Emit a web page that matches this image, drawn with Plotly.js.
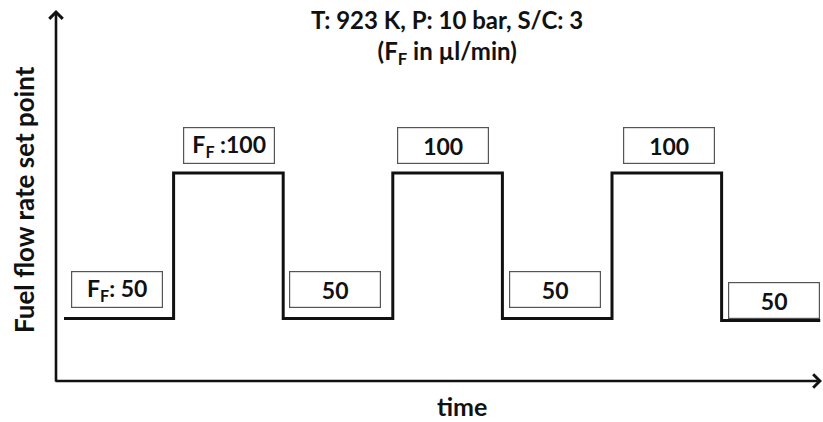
<!DOCTYPE html>
<html>
<head>
<meta charset="utf-8">
<script src="https://cdn.plot.ly/plotly-3.0.1.min.js"></script>
<style>html,body{margin:0;padding:0;background:#fff;}#chart{width:823px;height:422px;}</style>
</head>
<body>
<div id="chart"></div>
<script>
// ---- data ----
const stepTimes = [0, 1, 2, 3, 4, 5, 6, 6.9];
const flowSetPoints = [50, 100, 50, 100, 50, 100, 49.3];
const boxLabels = ['F<sub>F</sub>: 50', 'F<sub>F</sub> :100', '50', '100', '50', '100', '50'];
const titleLines = ['T: 923 K, P: 10 bar, S/C: 3', '(F<sub>F</sub> in µl/min)'];
const yLabel = 'Fuel flow rate set point';
const xLabel = 'time';

// ---- styling ----
const FONT = 'Lato, "Open Sans", sans-serif';
const boxXShift = [-2, 1, -3, -5, -2, 2, 3];
const boxYShift = [28.5, 27.5, 28.5, 27.5, 28.5, 27.5, 20];

const yVals = flowSetPoints.concat([flowSetPoints[flowSetPoints.length - 1]]);

const trace = {
  x: stepTimes,
  y: yVals,
  mode: 'lines',
  line: {shape: 'hv', color: '#111', width: 3},
  hoverinfo: 'skip',
  showlegend: false
};

const annotations = [];
for (let i = 0; i < flowSetPoints.length; i++) {
  const mid = (stepTimes[i] + stepTimes[i + 1]) / 2;
  annotations.push({
    x: mid, y: flowSetPoints[i], xref: 'x', yref: 'y',
    text: '<b>' + boxLabels[i] + '</b>',
    showarrow: false,
    xshift: boxXShift[i], yshift: boxYShift[i],
    width: 88, height: 33,
    bordercolor: '#555', borderwidth: 1.2, borderpad: 1,
    bgcolor: '#fff',
    font: {family: FONT, size: 23, color: '#111'}
  });
}
// axes arrows
annotations.push({
  xref: 'paper', yref: 'paper', x: 1, y: 0, ax: -768, ay: 0,
  showarrow: true, arrowhead: 4, arrowsize: 1, arrowwidth: 2.6, arrowcolor: '#111', text: '', standoff: 0
});
annotations.push({
  xref: 'paper', yref: 'paper', x: 0, y: 1, ax: 0, ay: 373,
  showarrow: true, arrowhead: 4, arrowsize: 1, arrowwidth: 2.6, arrowcolor: '#111', text: '', standoff: 0
});
// title
annotations.push({
  xref: 'paper', yref: 'paper', x: (447 - 56) / 766, y: (381 - 37) / 371,
  xanchor: 'center', yanchor: 'middle', showarrow: false,
  text: '<b>' + titleLines.join('<br>') + '</b>',
  font: {family: FONT, size: 24, color: '#111'}
});
// y label
annotations.push({
  xref: 'paper', yref: 'paper', x: (24 - 56) / 766, y: (381 - 200) / 371,
  xanchor: 'center', yanchor: 'middle', showarrow: false, textangle: -90,
  text: '<b>' + yLabel + '</b>',
  font: {family: FONT, size: 26, color: '#111'}
});
// x label
annotations.push({
  xref: 'paper', yref: 'paper', x: (462 - 56) / 766, y: (381 - 406) / 371,
  xanchor: 'center', yanchor: 'middle', showarrow: false,
  text: '<b>' + xLabel + '</b>',
  font: {family: FONT, size: 25, color: '#111'}
});

const layout = {
  width: 823, height: 422,
  margin: {l: 56, r: 1, t: 10, b: 41, pad: 0},
  paper_bgcolor: '#fff', plot_bgcolor: '#fff',
  xaxis: {range: [-0.073, 6.916], showgrid: false, zeroline: false, showticklabels: false, ticks: '', showline: false, fixedrange: true},
  yaxis: {range: [28.5, 156], showgrid: false, zeroline: false, showticklabels: false, ticks: '', showline: false, fixedrange: true},
  annotations: annotations,
  showlegend: false
};

Plotly.newPlot('chart', [trace], layout, {displayModeBar: false, staticPlot: true});
</script>
</body>
</html>
